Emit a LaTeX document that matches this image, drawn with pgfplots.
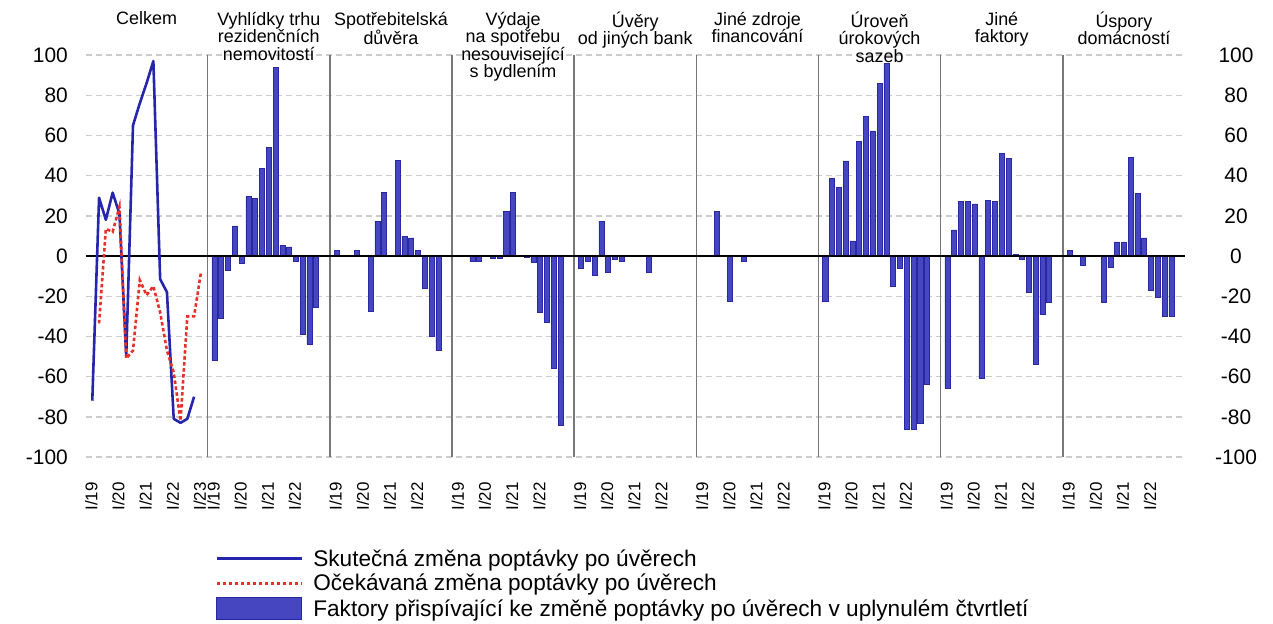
\documentclass[border=0pt]{standalone}
\usepackage{fontspec}
\setmainfont{Liberation Sans}
\usepackage{pgfplots}
\pgfplotsset{compat=1.18}
\usepackage{pgfplotstable}

\definecolor{lineblue}{RGB}{38,38,172}
\definecolor{barfill}{RGB}{70,70,192}
\definecolor{baredge}{RGB}{40,40,165}
\definecolor{linered}{RGB}{232,48,42}
\definecolor{gridgray}{RGB}{204,204,204}
\definecolor{sepgray}{RGB}{120,120,120}

% Panel 0: lines
\pgfplotstableread{
q v
1 -72
2 29
3 18
4 31.5
5 21
6 -50
7 65
8 76
9 86
10 97
11 -11.5
12 -18
13 -81
14 -83
15 -81
16 -70
}\skutecna
\pgfplotstableread{
q v
2 -33.5
3 13.5
4 12
5 24.5
6 -51
7 -47
8 -12
9 -19.5
10 -15
11 -28
12 -47
13 -58
14 -82
15 -30
16 -30
17 -8.5
}\ocekavana
% Bar panels
\pgfplotstableread{
q v
1 -52
2 -31
3 -7.3
4 15
5 -3.6
6 29.5
7 28.5
8 43.4
9 54
10 94
11 5.1
12 4.5
13 -2.8
14 -39
15 -44
16 -25.5
}\pA
\pgfplotstableread{
q v
1 2.8
4 2.8
6 -27.4
7 17.4
8 31.7
10 47.4
11 9.8
12 9
13 2.8
14 -16
15 -40
16 -47
}\pB
\pgfplotstableread{
q v
3 -2.8
4 -2.8
6 -1
7 -1
8 22
9 31.5
11 -0.5
12 -3.3
13 -28
14 -33
15 -56
16 -84
}\pC
\pgfplotstableread{
q v
1 -6
2 -2.8
3 -9.6
4 17.4
5 -8
6 -1.7
7 -2.8
11 -8
}\pD
\pgfplotstableread{
q v
3 22.2
5 -22.4
7 -2.8
}\pE
\pgfplotstableread{
q v
1 -22.4
2 38.5
3 34.3
4 47.3
5 7.5
6 56.9
7 69.5
8 62.2
9 86
10 96
11 -15.3
12 -6
13 -86
14 -86
15 -83
16 -64
}\pF
\pgfplotstableread{
q v
1 -66
2 13
3 27.2
4 27.2
5 25.9
6 -61
7 27.7
8 27.2
9 51
10 48.6
11 0.8
12 -1.7
13 -18
14 -54
15 -29
16 -23
}\pG
\pgfplotstableread{
q v
1 2.8
3 -4.8
6 -23
7 -5.8
8 7
9 7
10 49
11 31
12 9
13 -17
14 -20.6
15 -30
16 -30
}\pH

\pgfplotsset{
  barstyle/.style={ybar, bar width=0.74, bar shift=0pt, fill=barfill, draw=baredge, line width=0.6bp, forget plot},
}

\begin{document}
\begin{tikzpicture}
\path[use as bounding box] (0,0) rectangle (1273bp,-624bp);
\begin{axis}[
  at={(85.5bp,-457bp)}, anchor=south west,
  scale only axis, width=1099.5bp, height=402bp,
  xmin=0, xmax=162, ymin=-100, ymax=100,
  clip=false,
  axis line style={draw=none},
  major tick length=0pt,
  ytick={-100,-80,...,100},
  ymajorgrids,
  major grid style={gridgray, line width=1.4bp, dash pattern=on 6bp off 4bp},
  /pgf/number format/assume math mode=true,
  yticklabel style={font=\fontsize{21}{24}\selectfont, anchor=east, inner sep=0pt, xshift=-17.5bp},
  xtick={1,5,9,13,17,19,23,27,31,37,41,45,49,55,59,63,67,73,77,81,85,91,95,99,103,109,113,117,121,127,131,135,139,145,149,153,157},
  xticklabels={I/19,I/20,I/21,I/22,I/23,I/19,I/20,I/21,I/22,I/19,I/20,I/21,I/22,I/19,I/20,I/21,I/22,I/19,I/20,I/21,I/22,I/19,I/20,I/21,I/22,I/19,I/20,I/21,I/22,I/19,I/20,I/21,I/22,I/19,I/20,I/21,I/22},
  xticklabel style={font=\fontsize{17}{20}\selectfont, rotate=90, anchor=east, inner sep=0pt, xshift=-25bp, yshift=1bp},
  legend style={at={(0.1178,-0.226)}, anchor=north west, draw=none, fill=none,
    font=\fontsize{22.7}{25}\selectfont, row sep=3.5bp, inner sep=0pt,
    nodes={inner sep=1.5bp},
    /tikz/every odd column/.append style={column sep=9bp}},
  legend cell align=left,
]
% separators
\draw[sepgray, line width=1.5bp] (axis cs:18,-100) -- (axis cs:18,100);
\draw[sepgray, line width=1.5bp] (axis cs:36,-100) -- (axis cs:36,100);
\draw[sepgray, line width=1.5bp] (axis cs:54,-100) -- (axis cs:54,100);
\draw[sepgray, line width=1.5bp] (axis cs:72,-100) -- (axis cs:72,100);
\draw[sepgray, line width=1.5bp] (axis cs:90,-100) -- (axis cs:90,100);
\draw[sepgray, line width=1.5bp] (axis cs:108,-100) -- (axis cs:108,100);
\draw[sepgray, line width=1.5bp] (axis cs:126,-100) -- (axis cs:126,100);
\draw[sepgray, line width=1.5bp] (axis cs:144,-100) -- (axis cs:144,100);

\addplot[barstyle] table[x expr=\thisrow{q}+18, y=v] {\pA};
\addplot[barstyle] table[x expr=\thisrow{q}+36, y=v] {\pB};
\addplot[barstyle] table[x expr=\thisrow{q}+54, y=v] {\pC};
\addplot[barstyle] table[x expr=\thisrow{q}+72, y=v] {\pD};
\addplot[barstyle] table[x expr=\thisrow{q}+90, y=v] {\pE};
\addplot[barstyle] table[x expr=\thisrow{q}+108, y=v] {\pF};
\addplot[barstyle] table[x expr=\thisrow{q}+126, y=v] {\pG};
\addplot[barstyle] table[x expr=\thisrow{q}+144, y=v] {\pH};

\draw[black, line width=1.6bp] (axis cs:0,0) -- (axis cs:162,0);

\addplot[lineblue, line width=2.6bp, line join=round, forget plot] table[x=q, y=v] {\skutecna};
\addplot[linered, line width=2.6bp, dash pattern=on 3.5bp off 2.5bp, forget plot] table[x=q, y=v] {\ocekavana};

\addlegendimage{legend image code/.code={\draw[lineblue, line width=2.6bp] (0bp,0bp) -- (85bp,0bp);}}
\addlegendentry{Skutečná změna poptávky po úvěrech}
\addlegendimage{legend image code/.code={\draw[linered, line width=2.6bp, dash pattern=on 3.5bp off 2.5bp] (0bp,0bp) -- (85bp,0bp);}}
\addlegendentry{Očekávaná změna poptávky po úvěrech}
\addlegendimage{legend image code/.code={\fill[barfill, draw=baredge, line width=0.6bp] (0bp,-11bp) rectangle (85bp,11bp);}}
\addlegendentry{Faktory přispívající ke změně poptávky po úvěrech v uplynulém čtvrtletí}

% panel titles
\tikzset{ptitle/.style={anchor=north, align=center, inner sep=0pt, font=\fontsize{18}{17.5}\selectfont}}
\node[ptitle] at (axis cs:9,121.5) {Celkem};
\node[ptitle] at (axis cs:27,121.5) {Vyhlídky trhu\\rezidenčních\\nemovitostí};
\node[ptitle] at (axis cs:45,121.5) {Spotřebitelská\\důvěra};
\node[ptitle] at (axis cs:63,121.5) {Výdaje\\na spotřebu\\nesouvisející\\s bydlením};
\node[ptitle] at (axis cs:81,121.5) {Úvěry\\od jiných bank};
\node[ptitle] at (axis cs:99,121.5) {Jiné zdroje\\financování};
\node[ptitle] at (axis cs:117,121.5) {Úroveň\\úrokových\\sazeb};
\node[ptitle] at (axis cs:135,121.5) {Jiné\\faktory};
\node[ptitle] at (axis cs:153,121.5) {Úspory\\domácností};
\end{axis}
\begin{axis}[
  at={(85.5bp,-457bp)}, anchor=south west,
  scale only axis, width=1099.5bp, height=402bp,
  xmin=0, xmax=1, ymin=-100, ymax=100,
  hide x axis,
  axis y line*=right,
  y axis line style={draw=none},
  major tick length=0pt,
  ytick={-100,-80,...,100},
  /pgf/number format/assume math mode=true,
  yticklabel style={font=\fontsize{21}{24}\selectfont, anchor=center, inner sep=0pt, xshift=51bp},
]
\end{axis}
\end{tikzpicture}
\end{document}
